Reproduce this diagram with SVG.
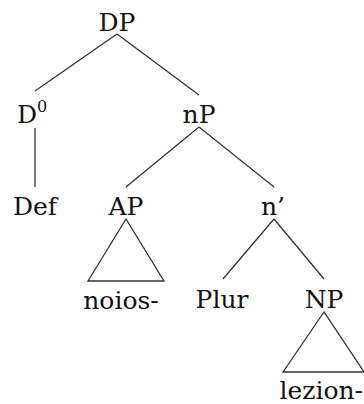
<svg xmlns="http://www.w3.org/2000/svg" width="364" height="404" viewBox="0 0 364 404">
<style>
text{font-family:'DejaVu Serif','Liberation Serif',serif;font-size:25px;fill:#111;text-anchor:middle}
.sup{font-size:16px;text-anchor:start}
.e{stroke:#333;stroke-width:1.3;fill:none}
</style>
<rect width="364" height="404" fill="#fff"/>
<g id="connectors">
<line class="e" x1="117" y1="34" x2="35" y2="91"/>
<line class="e" x1="117" y1="34" x2="199" y2="95"/>
<line class="e" x1="35" y1="128" x2="35" y2="187"/>
<line class="e" x1="199" y1="127" x2="126" y2="187"/>
<line class="e" x1="199" y1="127" x2="274" y2="187"/>
<line class="e" x1="274" y1="219" x2="223" y2="279"/>
<line class="e" x1="274" y1="219" x2="324" y2="279"/>
<polygon class="e" points="126,219 88,281 164,281"/>
<polygon class="e" points="324,312 283,372 364,372"/>
</g>
<g id="DP"><text x="117" y="31">DP</text></g>
<g id="D0"><text x="27" y="123">D</text><text class="sup" x="37" y="112">0</text></g>
<g id="nP"><text x="199" y="123">nP</text></g>
<g id="Def"><text x="35" y="215">Def</text></g>
<g id="AP"><text x="126" y="215">AP</text></g>
<g id="nbar"><text x="273" y="215">n’</text></g>
<g id="noios"><text x="121" y="309">noios-</text></g>
<g id="Plur"><text x="222" y="308">Plur</text></g>
<g id="NP"><text x="324" y="308">NP</text></g>
<g id="lezion"><text x="363" y="399" style="text-anchor:end">lezion-</text></g>
</svg>
